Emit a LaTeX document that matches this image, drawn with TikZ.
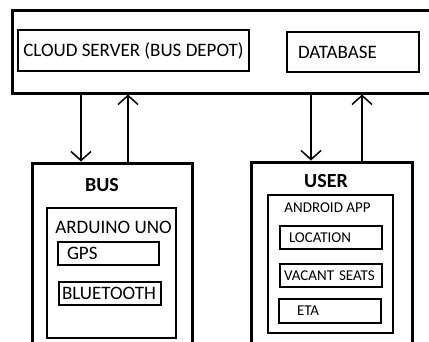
\documentclass[tikz,border=0pt]{standalone}
\usepackage{fontspec}
\setmainfont{Carlito}
\usetikzlibrary{arrows.meta,positioning}

\begin{document}
\begin{tikzpicture}[x=1pt, y=-1pt,
    frame/.style={rectangle, draw, line width=3pt, inner sep=0pt},
    panel/.style={rectangle, draw, line width=1.8pt, inner sep=0pt},
    item/.style={rectangle, draw, line width=1.8pt, inner ysep=0pt, align=left},
    big/.style={font=\fontsize{19}{22}\selectfont},
    small/.style={font=\fontsize{15}{18}\selectfont},
    title/.style={font=\fontsize{20}{24}\selectfont\bfseries},
    arrow/.style={-{Straight Barb[length=9pt,width=20pt,line width=1.5pt]}, line width=1.5pt}
]
\useasboundingbox (0,0) rectangle (429,341);
\clip (0,0) rectangle (429,341);

% Server
\node[frame, minimum width=428, minimum height=83] at (226,51.5) (server) {};
\node[item, big, minimum width=231, minimum height=41, align=center] at (133.5,50.5) (cloud) {CLOUD SERVER (BUS DEPOT)};
\node[item, big, text width=110, inner xsep=11, minimum height=40] at (353,52) (database) {DATABASE};

% Bus
\node[frame, minimum width=160, minimum height=197] at (112,261.5) (bus) {};
\node[title] at (102,185) (bustitle) {BUS};
\node[panel, minimum width=129, minimum height=130] at (111.5,273) (arduino) {};
\node[big] at (113.5,227) (arduinotitle) {ARDUINO UNO};
\node[item, big, text width=83, inner xsep=9, minimum height=23] at (108.5,253.5) (gps) {GPS};
\node[item, big, text width=96, inner xsep=3, minimum height=23] at (110,293.5) (bluetooth) {BLUETOOTH};

% User
\node[frame, minimum width=161, minimum height=198] at (331.5,261) (user) {};
\node[title] at (326,181) (usertitle) {USER};
\node[panel, minimum width=125, minimum height=138] at (330.5,264) (android) {};
\node[small] at (327.5,208) (androidtitle) {ANDROID APP};
\node[item, small, text width=84, inner xsep=9, minimum height=23] at (331,237.5) (location) {LOCATION};
\node[item, small, text width=94, inner xsep=4, minimum height=23] at (331,275.5) (seats) {VACANT SEATS};
\node[item, small, text width=66, inner xsep=18, minimum height=24] at (330,311) (eta) {ETA};

% Links
\coordinate (busdown) at (81,0);
\coordinate (busup) at (128,0);
\coordinate (userdown) at (311,0);
\coordinate (userup) at (362,0);
\draw[arrow] (server.south -| busdown) -- (bus.north -| busdown);
\draw[arrow] (bus.north -| busup) -- (server.south -| busup);
\draw[arrow] (server.south -| userdown) -- (user.north -| userdown);
\draw[arrow] (user.north -| userup) -- (server.south -| userup);

\end{tikzpicture}
\end{document}
